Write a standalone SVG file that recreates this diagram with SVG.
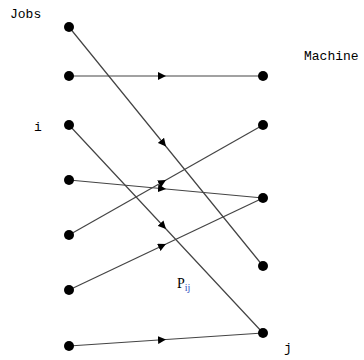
<svg xmlns="http://www.w3.org/2000/svg" width="364" height="360" viewBox="0 0 364 360">
<defs>
<style>
.edge{stroke:#444;stroke-width:1.2;fill:none;marker-mid:url(#arr)}
.node{fill:#000}
.lbl{font-family:"Liberation Mono","DejaVu Sans Mono",monospace;font-size:13px;fill:#000}
.p{font-family:"Liberation Serif","Times New Roman",serif;font-size:14px;fill:#000}
.sub{font-family:"Liberation Serif","Times New Roman",serif;font-size:10px;fill:#3050c0}
</style>
<marker id="arr" viewBox="0 0 10 10" refX="10" refY="5" markerWidth="8" markerHeight="8" markerUnits="userSpaceOnUse" orient="auto">
<path d="M0,0 L10,5 L0,10 z" fill="#000"/>
</marker>
</defs>
<rect width="364" height="360" fill="#fff"/>
<g id="connectors">
<polyline class="edge" points="69,27 166,146.5 263,266"/>
<polyline class="edge" points="69,76 166,76 263,76"/>
<polyline class="edge" points="69,125 166,229 263,333"/>
<polyline class="edge" points="69,180 166,189 263,198"/>
<polyline class="edge" points="69,235 166,180 263,125"/>
<polyline class="edge" points="69,290 166,244 263,198"/>
<polyline class="edge" points="69,346 166,339.5 263,333"/>
</g>
<g id="job1"><circle class="node" cx="69" cy="27" r="5"/></g>
<g id="job2"><circle class="node" cx="69" cy="76" r="5"/></g>
<g id="job3"><circle class="node" cx="69" cy="125" r="5"/></g>
<g id="job4"><circle class="node" cx="69" cy="180" r="5"/></g>
<g id="job5"><circle class="node" cx="69" cy="235" r="5"/></g>
<g id="job6"><circle class="node" cx="69" cy="290" r="5"/></g>
<g id="job7"><circle class="node" cx="69" cy="346" r="5"/></g>
<g id="m1"><circle class="node" cx="263" cy="76" r="5"/></g>
<g id="m2"><circle class="node" cx="263" cy="125" r="5"/></g>
<g id="m3"><circle class="node" cx="263" cy="198" r="5"/></g>
<g id="m4"><circle class="node" cx="263" cy="266" r="5"/></g>
<g id="m5"><circle class="node" cx="263" cy="333" r="5"/></g>
<g id="labels">
<text class="lbl" x="10" y="18">Jobs</text>
<text class="lbl" x="304" y="60">Machine</text>
<text class="lbl" x="34" y="131">i</text>
<text class="lbl" x="284" y="352">j</text>
<text class="p" x="177" y="288">P<tspan class="sub" dy="3">ij</tspan></text>
</g>
</svg>
